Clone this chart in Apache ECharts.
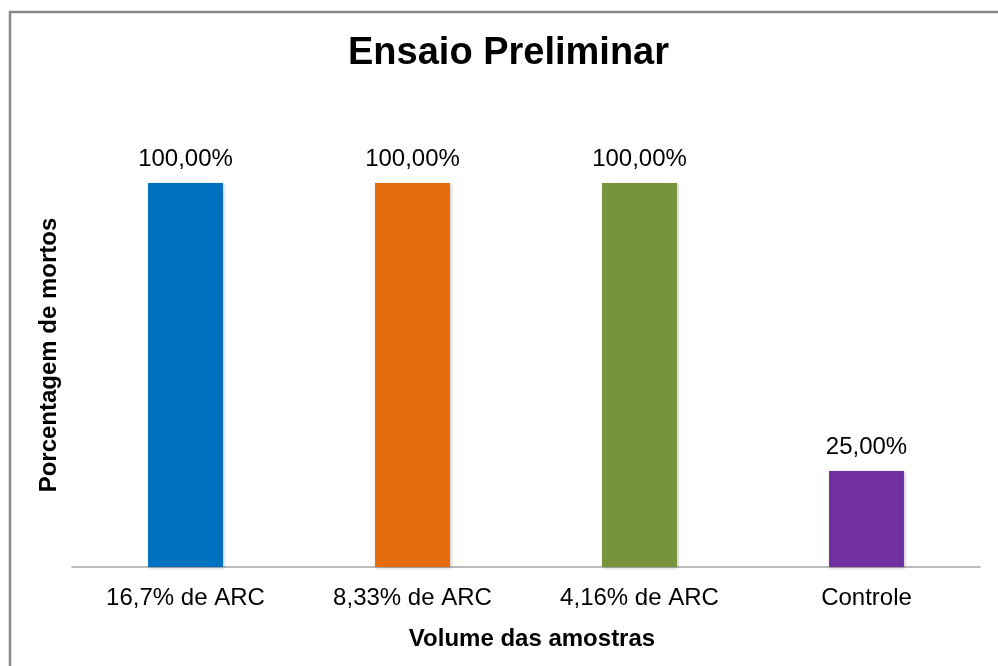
<!DOCTYPE html>
<html><head><meta charset="utf-8">
<script src="https://cdn.jsdelivr.net/npm/echarts@6/dist/echarts.min.js"></script>
<style>html,body{margin:0;padding:0;background:#fff}#c{width:998px;height:666px}</style>
</head><body><div id="c"></div>
<script>
const categories = ['16,7% de ARC', '8,33% de ARC', '4,16% de ARC', 'Controle'];
const values = [100, 100, 100, 25];
const colors = ['#0070C0', '#E46C0A', '#77933C', '#7030A0'];
const chart = echarts.init(document.getElementById('c'));
const font = '"Liberation Sans", Arial, sans-serif';
chart.setOption({
  animation: false,
  backgroundColor: '#fff',
  title: { text: 'Ensaio Preliminar', left: 343, top: 30,
    textStyle: { fontFamily: font, fontSize: 38, fontWeight: 'bold', color: '#000' } },
  graphic: [{ type: 'rect', shape: { x: 10, y: 12, width: 1000, height: 700 },
    style: { fill: 'none', stroke: '#898989', lineWidth: 2.5 }, silent: true }],
  grid: { left: 72, right: 18, top: 183, bottom: 99 },
  xAxis: { type: 'category', data: categories,
    axisLine: { lineStyle: { color: '#A6A6A6', width: 1.5 } },
    axisTick: { show: false },
    axisLabel: { margin: 19, fontFamily: font, fontSize: 24, color: '#000' },
    name: 'Volume das amostras', nameLocation: 'middle', nameGap: 60,
    nameTextStyle: { fontFamily: font, fontSize: 24, fontWeight: 'bold', color: '#000', padding: [0, 0, 0, 12] } },
  yAxis: { type: 'value', min: 0, max: 100,
    axisLine: { show: false }, axisTick: { show: false }, axisLabel: { show: false },
    splitLine: { show: false },
    name: 'Porcentagem de mortos', nameLocation: 'middle', nameGap: 11,
    nameTextStyle: { fontFamily: font, fontSize: 24, fontWeight: 'bold', color: '#000', padding: [0, 0, 0, 40] } },
  series: [{ type: 'bar', barWidth: '33%',
    data: values.map((v, i) => ({ value: v, itemStyle: { color: colors[i] } })),
    itemStyle: { shadowColor: 'rgba(0,0,0,0.25)', shadowBlur: 3, shadowOffsetX: 1, shadowOffsetY: 1 },
    label: { show: true, position: 'top', distance: 12, fontFamily: font, fontSize: 24, color: '#000',
      formatter: p => p.value.toFixed(2).replace('.', ',') + '%' } }]
});
</script></body></html>
